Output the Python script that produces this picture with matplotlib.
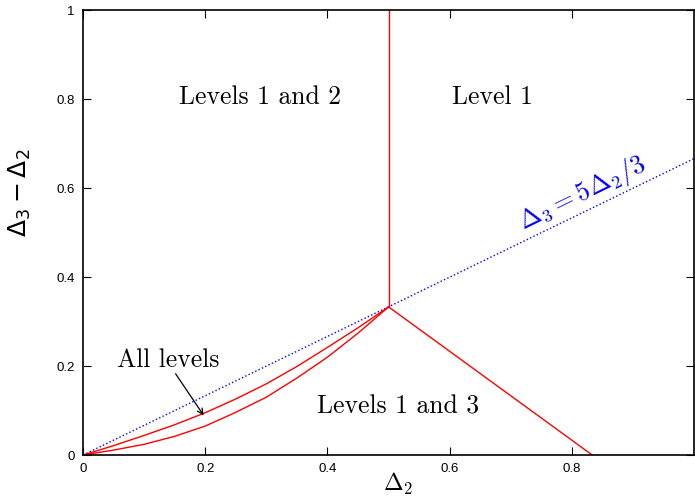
import matplotlib.pyplot as plt

plt.rcParams['mathtext.fontset'] = 'cm'

# curved boundaries from the origin to the triple point
upper_x = [0, 0.05, 0.1, 0.15, 0.2, 0.25, 0.3, 0.35, 0.4, 0.45, 0.5]
upper_y = [0, 0.021, 0.044, 0.068, 0.095, 0.126, 0.160, 0.199, 0.242, 0.286, 0.333]
lower_x = [0, 0.05, 0.1, 0.15, 0.2, 0.25, 0.3, 0.35, 0.4, 0.45, 0.5]
lower_y = [0, 0.011, 0.024, 0.042, 0.065, 0.096, 0.130, 0.173, 0.220, 0.274, 0.333]

# straight boundaries
vert_x = [0.5, 0.5]
vert_y = [1/3, 1.0]
diag_x = [0.5, 5/6]
diag_y = [1/3, 0.0]

# Delta3 = 5 Delta2 / 3  ->  Delta3 - Delta2 = 2 Delta2 / 3
line_x = [0.0, 1.0]
line_y = [0.0, 2/3]

xticks = [0, 0.2, 0.4, 0.6, 0.8]
yticks = [0, 0.2, 0.4, 0.6, 0.8, 1]

fig = plt.figure(figsize=(6.95, 4.97), dpi=100)
ax = fig.add_axes([0.1194, 0.0845, 0.8792, 0.8945])

ax.plot(line_x, line_y, color='blue', linestyle=':', linewidth=1)
ax.plot(upper_x, upper_y, color='red', linewidth=1)
ax.plot(lower_x, lower_y, color='red', linewidth=1)
ax.plot(vert_x, vert_y, color='red', linewidth=1)
ax.plot(diag_x, diag_y, color='red', linewidth=1)

ax.set_xlim(0, 1)
ax.set_ylim(0, 1)
ax.set_xticks(xticks)
ax.set_yticks(yticks)
ax.set_xticklabels(['0', '0.2', '0.4', '0.6', '0.8'])
ax.set_yticklabels(['0', '0.2', '0.4', '0.6', '0.8', '1'])
ax.tick_params(direction='in', length=6, width=0.8, top=True, right=True,
               labelsize=9.5, pad=6)
for lab in ax.get_xticklabels() + ax.get_yticklabels():
    lab.set_fontfamily('Liberation Sans')
for sp in ax.spines.values():
    sp.set_linewidth(1.2)

ax.set_xlabel(r'$\Delta_2$', fontsize=17)
ax.xaxis.set_label_coords(0.515, -0.035)
ax.set_ylabel(r'$\Delta_3 - \Delta_2$', fontsize=18,
              math_fontfamily='dejavusans')
ax.yaxis.set_label_coords(-0.082, 0.59)

txt = dict(fontfamily='cmr10', fontsize=18.5, ha='center', va='center')
ax.text(0.290, 0.806, 'Levels 1 and 2', **txt)
ax.text(0.670, 0.806, 'Level 1', **txt)
ax.text(0.515, 0.108, 'Levels 1 and 3', **txt)
ax.text(0.139, 0.214, 'All levels', **txt)

ax.annotate('', xy=(0.200, 0.084), xytext=(0.149, 0.188),
            arrowprops=dict(arrowstyle='->', color='black', lw=0.9))

ax.text(0.818, 0.588, r'$\Delta_3 = 5\Delta_2/3$', color='blue', fontsize=19,
        rotation=26, ha='center', va='center', rotation_mode='anchor')

plt.savefig('out.png', dpi=100)
